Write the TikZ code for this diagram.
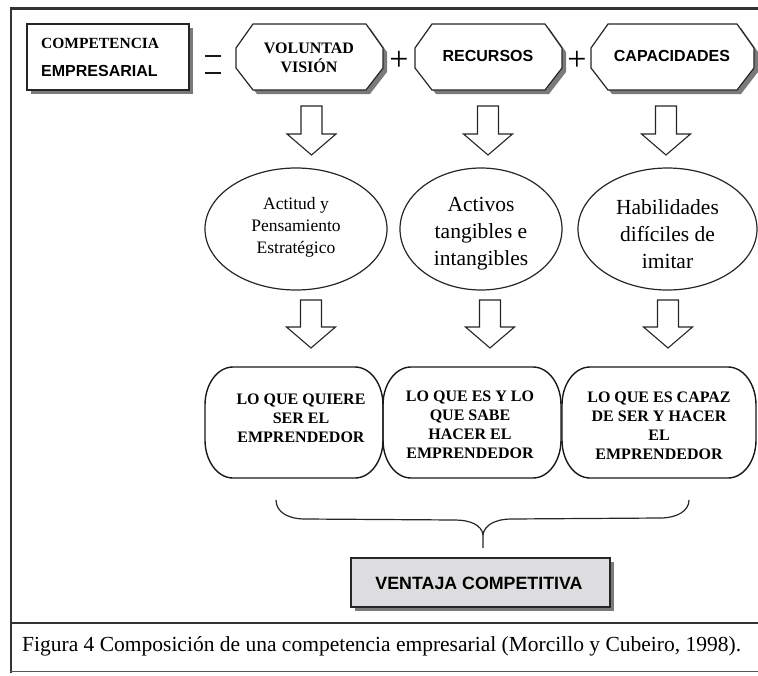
\documentclass[tikz,border=0pt]{standalone}
\usepackage{fontspec}
\setmainfont{Liberation Serif}
\newfontfamily\arialf{Liberation Sans}
\usetikzlibrary{shapes.geometric}
\definecolor{shadowc}{gray}{0.48}
\definecolor{boxgray}{RGB}{221,221,223}
\definecolor{framec}{gray}{0.2}
\tikzset{
  octline/.style={draw=black!85, line width=1.2pt, fill=white},
  pillline/.style={draw=black!90, line width=1.4pt},
  arrline/.style={draw=black!85, line width=1.1pt, fill=white},
  tbf/.style={font=\fontsize{16}{19}\selectfont\bfseries, align=center, inner sep=0pt},
  abf/.style={font=\arialf\bfseries\fontsize{16}{19}\selectfont, align=center, inner sep=0pt},
  ovalnode/.style={ellipse, draw=black!85, line width=1.2pt, inner sep=0pt, align=center},
  ovaltext/.style={align=center, inner sep=0pt},
  boxtext/.style={font=\fontsize{16}{19}\selectfont\bfseries, align=center, inner sep=0pt},
  eqbar/.style={line width=2.6pt, black!90}
}
\newcommand{\octbox}[4]{%
  \fill[shadowc,shift={(4,4)}] ({#1+17},#2) -- ({#3-17},#2) -- (#3,{#2+24}) -- (#3,{#4-22}) -- ({#3-17},#4) -- ({#1+17},#4) -- (#1,{#4-22}) -- (#1,{#2+24}) -- cycle;
  \draw[octline] ({#1+17},#2) -- ({#3-17},#2) -- (#3,{#2+24}) -- (#3,{#4-22}) -- ({#3-17},#4) -- ({#1+17},#4) -- (#1,{#4-22}) -- (#1,{#2+24}) -- cycle;}
\newcommand{\mypill}[4]{%
  \draw[pillline] ({#1+28},#2) -- ({#3-28},#2) .. controls ({#3-12.5},#2) and (#3,{#2+17}) .. (#3,{#2+38}) -- (#3,{#4-38}) .. controls (#3,{#4-17}) and ({#3-12.5},#4) .. ({#3-28},#4) -- ({#1+28},#4) .. controls ({#1+12.5},#4) and (#1,{#4-17}) .. (#1,{#4-38}) -- (#1,{#2+38}) .. controls (#1,{#2+17}) and ({#1+12.5},#2) .. ({#1+28},#2) -- cycle;}
\newcommand{\blockarrow}[4]{%
  \draw[arrline] ({#1-10.5},#2) -- ({#1+10.5},#2) -- ({#1+10.5},#3) -- ({#1+24.5},#3) -- (#1,#4) -- ({#1-24.5},#3) -- ({#1-10.5},#3) -- cycle;}
\begin{document}
\begin{tikzpicture}[x=1pt,y=-1pt]
\useasboundingbox (0,0) rectangle (758,675);
% frame
\draw[framec, line width=2.4pt] (10,8.5) -- (758,8.5);
\draw[framec, line width=2.2pt] (11,7.5) -- (11,673);
\draw[framec, line width=2.2pt] (10,623) -- (758,623);
\draw[black!65, line width=1.5pt] (10,671.5) -- (758,671.5);
% top row
\fill[shadowc] (31,28) rectangle (193,94);
\draw[line width=1.3pt, draw=black!85, fill=white] (27,24) rectangle (189,90);
\node[anchor=west, align=left, inner sep=0pt, font=\fontsize{15.5}{20}\selectfont\bfseries] (comp) at (41,57) {COMPETENCIA\\[8pt]{\arialf\fontsize{16}{20}\selectfont EMPRESARIAL}};
\coordinate (eqa) at (205,56);
\coordinate (eqb) at (221,56);
\coordinate (eqc) at (205,73);
\coordinate (eqd) at (221,73);
\draw[eqbar] (eqa) -- (eqb);
\draw[eqbar] (eqc) -- (eqd);
\octbox{236}{24}{383}{90}
\node[tbf] (vol) at (309,58) {VOLUNTAD\\VISIÓN};
\node[inner sep=0pt, font=\fontsize{34}{34}\selectfont] (p1) at (399,61) {+};
\octbox{415}{24}{562}{90}
\node[abf] (rec) at (488,56) {RECURSOS};
\node[inner sep=0pt, font=\fontsize{34}{34}\selectfont] (p2) at (577,61) {+};
\octbox{591}{24}{754}{90}
\node[abf] (capa) at (672,56) {CAPACIDADES};
% first row of arrows
\blockarrow{311.5}{106}{134}{155}
\blockarrow{488}{106}{134}{155}
\blockarrow{666}{106}{134}{155}
% ellipses
\node[ovalnode, minimum width=182pt, minimum height=122pt] (e1) at (296,229) {};
\node[ovalnode, minimum width=162pt, minimum height=122pt] (e2) at (481,229) {};
\node[ovalnode, minimum width=179pt, minimum height=122pt] (e3) at (667.5,229) {};
\node[ovaltext, font=\fontsize{17.5}{22}\selectfont] (e1t) at (296,227) {Actitud y\\Pensamiento\\Estratégico};
\node[ovaltext, font=\fontsize{21.5}{27}\selectfont] (e2t) at (481,234) {Activos\\tangibles e\\intangibles};
\node[ovaltext, font=\fontsize{21.5}{27}\selectfont] (e3t) at (667.5,234) {Habilidades\\difíciles de\\imitar};
% second row of arrows
\blockarrow{311}{300}{327}{348}
\blockarrow{490}{300}{327}{348}
\blockarrow{668}{300}{327}{348}
% rounded boxes
\mypill{205}{367}{383}{478}
\mypill{383}{367}{561}{478}
\mypill{562}{367}{756}{478}
\node[boxtext] (t1) at (301,418) {LO QUE QUIERE\\SER EL\\EMPRENDEDOR};
\node[boxtext] (t2) at (470,425) {LO QUE ES Y LO\\QUE SABE\\HACER EL\\EMPRENDEDOR};
\node[boxtext] (t3) at (659,426) {LO QUE ES CAPAZ\\DE SER Y HACER\\EL\\EMPRENDEDOR};
% brace
\coordinate (bl) at (276,500);
\coordinate (br) at (689,500);
\coordinate (bm) at (483,535);
\coordinate (btip) at (483,548);
\draw[line width=1.2pt, black!85] (bl) .. controls (276,512) and (288,519) .. (305,519) -- (455,520) .. controls (470,520) and (482,525) .. (bm) -- (btip);
\draw[line width=1.2pt, black!85] (bm) .. controls (484,525) and (496,519) .. (511,519) -- (660,518) .. controls (677,518) and (689,511) .. (br);
% result box
\fill[shadowc] (355,562) rectangle (614,611);
\draw[line width=1.3pt, draw=black!85, fill=boxgray] (351,558) rectangle (610,607);
\node[inner sep=0pt, font=\arialf\bfseries\fontsize{17.8}{20}\selectfont] (vc) at (479,583) {VENTAJA COMPETITIVA};
% caption
\node[anchor=base west, inner sep=0pt, font=\fontsize{21.5}{26}\selectfont] (cap) at (22,651) {Figura 4 Composición de una competencia empresarial (Morcillo y Cubeiro, 1998).};
\end{tikzpicture}
\end{document}
